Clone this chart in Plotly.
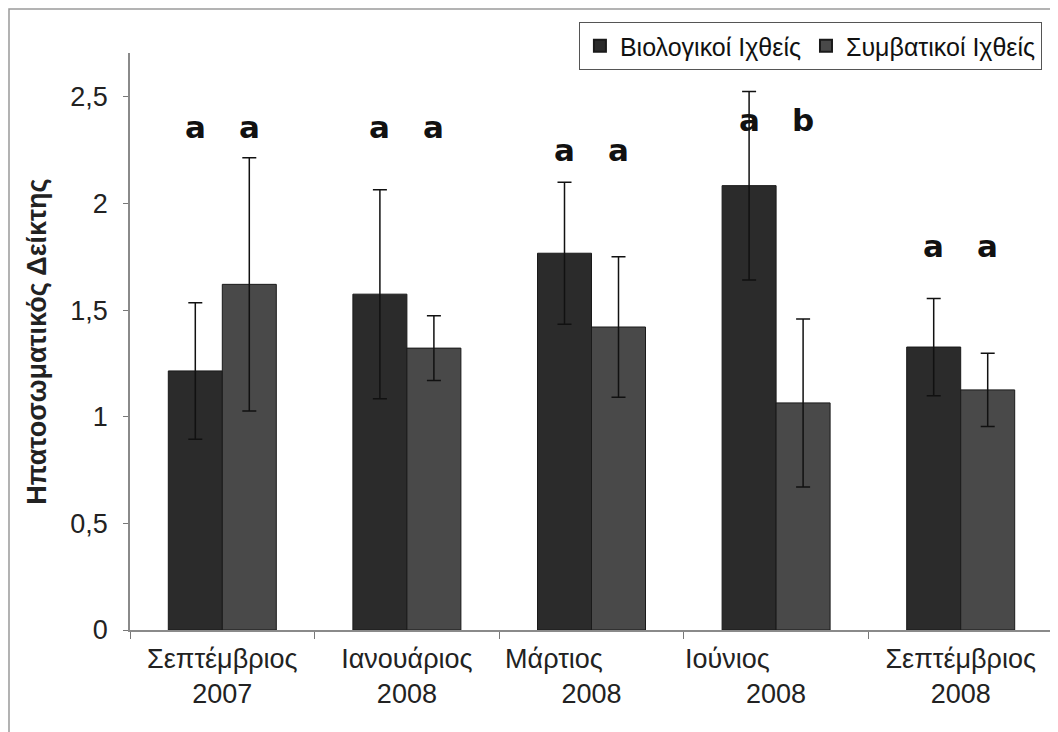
import plotly.graph_objects as go

# ---- data ----
months = ["Σεπτέμβριος", "Ιανουάριος", "Μάρτιος", "Ιούνιος", "Σεπτέμβριος"]
years = ["2007", "2008", "2008", "2008", "2008"]
categories = [f"{m} {y}" for m, y in zip(months, years)]

bio_name = "Βιολογικοί Ιχθείς"
conv_name = "Συμβατικοί Ιχθείς"
bio_vals = [1.215, 1.575, 1.767, 2.084, 1.327]
bio_err = [0.32, 0.49, 0.333, 0.442, 0.228]
conv_vals = [1.621, 1.322, 1.421, 1.065, 1.126]
conv_err = [0.594, 0.152, 0.33, 0.394, 0.172]

bio_letters = ["a", "a", "a", "a", "a"]
conv_letters = ["a", "a", "a", "b", "a"]
letter_y = [2.36, 2.36, 2.25, 2.39, 1.80]

y_title = "Ηπατοσωματικός Δείκτης"

# ---- layout helpers (label padding to mimic original line offsets) ----
pad_nbsp = [0, 0, 10, 13, 0]
ticktext = [m + "\u00a0" * p + "<br>" + y for m, y, p in zip(months, years, pad_nbsp)]

fig = go.Figure()
fig.add_trace(go.Bar(
    name=bio_name, x=categories, y=bio_vals,
    marker=dict(color="#2b2b2b", line=dict(color="#1a1a1a", width=1)),
    error_y=dict(type="data", array=bio_err, visible=True, color="#111111",
                 thickness=1.5, width=7),
))
fig.add_trace(go.Bar(
    name=conv_name, x=categories, y=conv_vals,
    marker=dict(color="#494949", line=dict(color="#1a1a1a", width=1)),
    error_y=dict(type="data", array=conv_err, visible=True, color="#111111",
                 thickness=1.5, width=7),
))

for c, lb, lc, ly in zip(categories, bio_letters, conv_letters, letter_y):
    for txt, shift in ((lb, -27), (lc, 27)):
        fig.add_annotation(x=c, y=ly, text="<b>" + txt + "</b>", xshift=shift,
                           showarrow=False, yanchor="middle",
                           font=dict(family="DejaVu Sans", size=31, color="#111111"))

# outer frame (top and left edges visible)
fig.add_shape(type="rect", xref="paper", yref="paper",
              x0=-0.1311, x1=1.2, y0=-0.5, y1=1.0763,
              line=dict(color="#9a9a9a", width=1.5), fillcolor="rgba(0,0,0,0)",
              layer="below")

fig.update_layout(
    width=1050, height=724,
    margin=dict(l=122, r=5, t=45, b=102, autoexpand=False),
    paper_bgcolor="white", plot_bgcolor="white",
    barmode="group", bargap=0.415, bargroupgap=0,
    separators=",.",
    font=dict(family="Liberation Sans", color="#222222"),
    showlegend=True,
    legend=dict(orientation="h", x=0.988, xanchor="right", y=1.0537, yanchor="top",
                bordercolor="#555555", borderwidth=1, bgcolor="white",
                font=dict(family="Liberation Sans", size=25, color="#111111"),
                itemsizing="constant", traceorder="normal"),
    xaxis=dict(
        tickmode="array", tickvals=categories, ticktext=ticktext, tickangle=0,
        automargin=False,
        tickson="boundaries", ticks="outside", ticklen=7, tickcolor="#777777",
        showline=True, linecolor="#8a8a8a", linewidth=1.5,
        tickfont=dict(family="Liberation Sans", size=27, color="#222222"),
        showgrid=False, zeroline=False, ticklabelstandoff=4,
    ),
    yaxis=dict(
        range=[0, 2.706], tickvals=[0, 0.5, 1, 1.5, 2, 2.5],
        automargin=False,
        ticks="outside", ticklen=5, tickcolor="#777777",
        showline=True, linecolor="#8a8a8a", linewidth=1.5,
        tickfont=dict(family="Liberation Sans", size=27, color="#222222"),
        showgrid=False, zeroline=False, ticklabelstandoff=10,
        title=dict(text="<b>" + y_title + "</b>", standoff=16,
                   font=dict(family="Liberation Sans", size=27, color="#222222")),
    ),
)

fig.write_html("out.html")
